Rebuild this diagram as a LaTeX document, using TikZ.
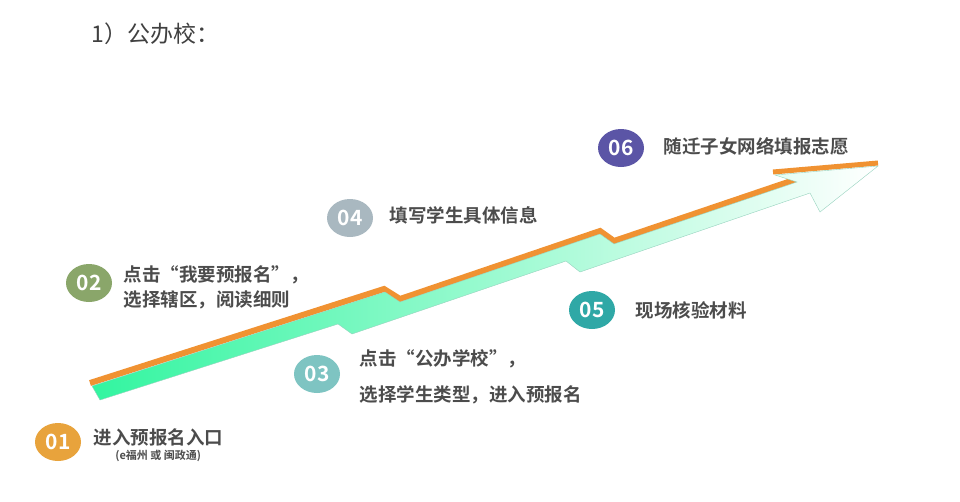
\documentclass[tikz,border=0pt]{standalone}
\usepackage{fontspec}
\setmainfont{Noto Sans CJK SC}
\newfontfamily\cjkb{Noto Sans CJK SC}[BoldFont={* Bold}]
\begin{document}
\begin{tikzpicture}[x=1pt,y=-1pt,
 num/.style={ellipse,minimum width=46pt,minimum height=38pt,inner sep=0pt,text=white,font=\fontsize{21}{21}\selectfont\bfseries\cjkb},
 lab/.style={anchor=west,text=black!70,font=\fontsize{18.5}{25}\selectfont\bfseries\cjkb,align=left}]
\usetikzlibrary{shapes.geometric}
\useasboundingbox (0,0) rectangle (960,501);
\node[anchor=west,text=black!75,font=\fontsize{23}{23}\selectfont] (title) at (88,34) {1）公办校：};
% arrow
\draw[line width=6pt,line join=miter,color={rgb,255:red,240;green,146;blue,50}]
 (90,383)--(384,289)--(400,299)--(600,231)--(614,241)--(800,178);
\draw[line width=5pt,color={rgb,255:red,240;green,146;blue,50}] (773,172)--(878,163);
\shade[left color={rgb,255:red,50;green,245;blue,160},right color=white,draw={rgb,255:red,150;green,210;blue,190},line width=0.4pt]
 (92,386)--(385,292)--(400,302)--(600,234)--(614,244)--(797,182)--(775,175)--(878,166)--(820,212)--(810,193)
 --(580,272)--(566,261)--(352,334)--(338,324)--(100,400)--cycle;
% nodes
\node[num,fill={rgb,255:red,232;green,163;blue,60}] (n1) at (58,442) {01};
\node[lab] (t1) at (90,437) {进入预报名入口};
\node[anchor=north,text=black!70,font=\fontsize{11}{12}\selectfont\bfseries\cjkb] (t1b) at ([yshift=3pt]t1.south) {(e福州 或 闽政通)};
\node[num,fill={rgb,255:red,138;green,166;blue,106}] (n2) at (89,283) {02};
\node[lab] (t2) at (120,287) {点击“我要预报名”，\\选择辖区，阅读细则};
\node[num,fill={rgb,255:red,126;green,196;blue,194}] (n3) at (317,374) {03};
\node[lab,font=\fontsize{18.5}{36}\selectfont\bfseries\cjkb] (t3) at (356,377) {点击“公办学校”，\\选择学生类型，进入预报名};
\node[num,fill={rgb,255:red,169;green,184;blue,192}] (n4) at (350,218) {04};
\node[lab] (t4) at (386,215) {填写学生具体信息};
\node[num,fill={rgb,255:red,47;green,168;blue,166}] (n5) at (592,310) {05};
\node[lab] (t5) at (632,310) {现场核验材料};
\node[num,fill={rgb,255:red,91;green,85;blue,166}] (n6) at (621,148) {06};
\node[lab] (t6) at (660,146) {随迁子女网络填报志愿};
\end{tikzpicture}
\end{document}
